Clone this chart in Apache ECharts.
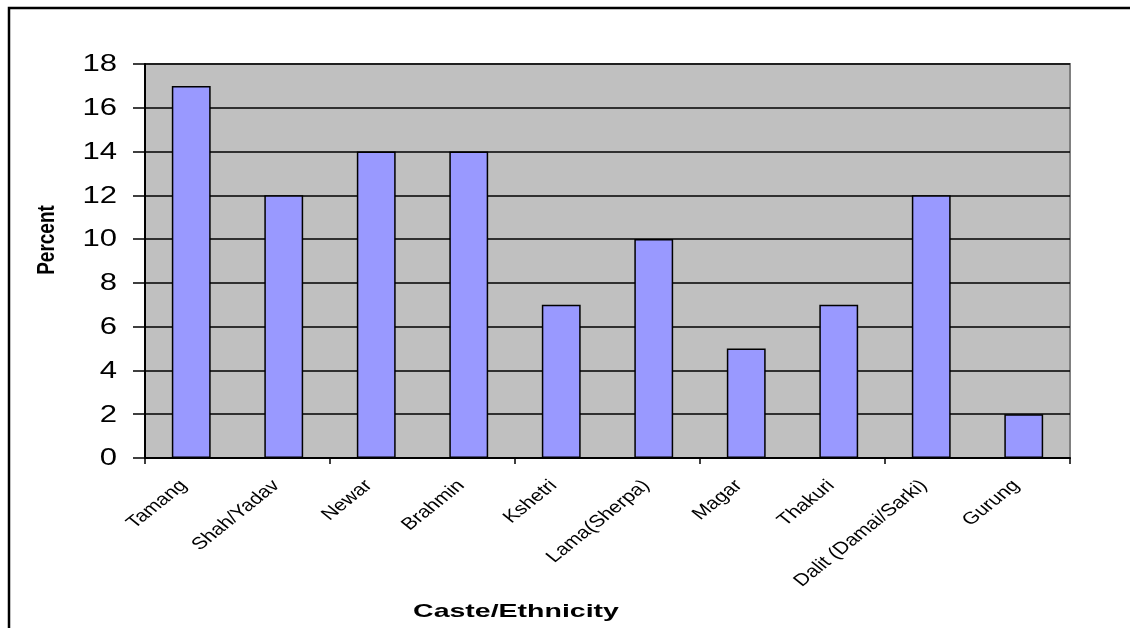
<!DOCTYPE html>
<html>
<head>
<meta charset="utf-8">
<script src="https://cdn.jsdelivr.net/npm/echarts@6/dist/echarts.min.js"></script>
<style>
  html, body { margin: 0; padding: 0; background: #fff; }
  #chart { width: 1130px; height: 628px; }
</style>
</head>
<body>
<div id="chart"></div>
<script>
// Share of respondents by caste / ethnic group
const categories = ['Tamang', 'Shah/Yadav', 'Newar', 'Brahmin', 'Kshetri', 'Lama(Sherpa)', 'Magar', 'Thakuri', 'Dalit (Damai/Sarki)', 'Gurung'];
const percentValues = [17, 12, 14, 14, 7, 10, 5, 7, 12, 2];
const yTickLabels = [0, 2, 4, 6, 8, 10, 12, 14, 16, 18];
const yMin = 0, yMax = 18, yInterval = 2;

const FONT = '"Liberation Sans", Arial, sans-serif';
const WIDE = 1.35;   // horizontal widening of the label type

const chart = echarts.init(document.getElementById('chart'));
chart.setOption({
  animation: false,
  backgroundColor: '#ffffff',
  graphic: [
    {
      type: 'rect',
      shape: { x: 9, y: 8, width: 1300, height: 800 },
      style: { fill: 'none', stroke: '#000', lineWidth: 2.5 },
      silent: true
    },
    {
      type: 'text',
      x: 516, y: 612,
      scaleX: 1.5,
      style: { text: 'Caste/Ethnicity', font: 'bold 19px ' + FONT, fill: '#000', align: 'center', verticalAlign: 'middle' }
    },
    {
      type: 'text',
      x: 47, y: 240,
      rotation: Math.PI / 2,
      scaleY: 1.3,
      style: { text: 'Percent', font: 'bold 19px ' + FONT, fill: '#000', align: 'center', verticalAlign: 'middle' }
    }
  ],
  grid: {
    left: 145, top: 64, right: 60, bottom: 170,
    show: true, backgroundColor: '#C0C0C0', borderColor: '#808080', borderWidth: 2
  },
  xAxis: {
    type: 'category',
    data: categories,
    axisLine: { lineStyle: { color: '#000', width: 2 } },
    axisTick: { show: true, length: 6, lineStyle: { color: '#000', width: 1.5 } },
    axisLabel: { show: false }
  },
  yAxis: {
    type: 'value',
    min: yMin, max: yMax, interval: yInterval,
    axisLine: { show: true, lineStyle: { color: '#000', width: 2 } },
    axisTick: { show: true, length: 12, lineStyle: { color: '#000', width: 1.5 } },
    axisLabel: { show: false },
    splitLine: { show: true, lineStyle: { color: '#000', width: 1.5 } }
  },
  series: [
    {
      type: 'bar',
      data: percentValues,
      barWidth: '42%',
      itemStyle: { color: '#9999FF', borderColor: '#000', borderWidth: 1.5 }
    },
    {
      // slanted category labels under the axis
      type: 'custom',
      silent: true,
      clip: false,
      z: 5,
      data: categories.map((c, i) => [i, 0]),
      renderItem(params, api) {
        const p = api.coord([api.value(0), 0]);
        return {
          type: 'group',
          x: p[0] - 15, y: p[1] + 19,
          scaleX: 1.25,
          children: [{
            type: 'text',
            rotation: Math.PI / 4,
            style: { text: categories[params.dataIndex], font: '17px ' + FONT, fill: '#000', align: 'right', verticalAlign: 'top' }
          }]
        };
      }
    },
    {
      // value labels left of the axis
      type: 'custom',
      silent: true,
      clip: false,
      z: 5,
      data: yTickLabels.map(v => [0, v]),
      renderItem(params, api) {
        const p = api.coord([0, api.value(1)]);
        const band = api.size([1, 0])[0];
        return {
          type: 'group',
          x: p[0] - band / 2 - 28, y: p[1] + 1,
          scaleX: WIDE,
          children: [{
            type: 'text',
            style: { text: String(yTickLabels[params.dataIndex]), font: '23px ' + FONT, fill: '#000', align: 'right', verticalAlign: 'middle' }
          }]
        };
      }
    }
  ]
});
</script>
</body>
</html>
